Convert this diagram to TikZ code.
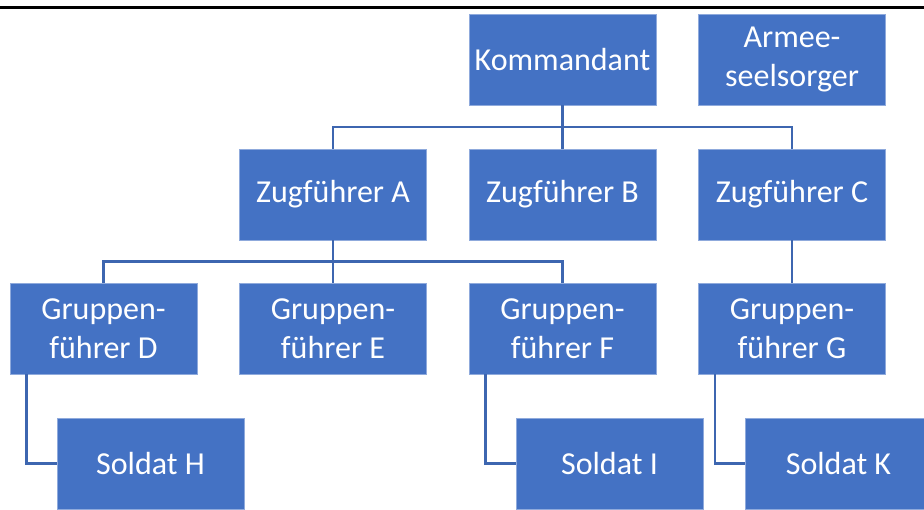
\documentclass[tikz,border=0pt]{standalone}
\usepackage{fontspec}
\setmainfont{Carlito}
\usetikzlibrary{calc}
\definecolor{boxblue}{HTML}{4472C4}
\definecolor{boxedge}{HTML}{8FAADC}
\definecolor{linkblue}{HTML}{3D66B0}
\tikzset{
  orgbox/.style={fill=boxblue, draw=boxedge, line width=0.8pt, text=white,
    minimum width=187pt, minimum height=91pt, inner sep=0pt, align=center,
    font=\fontsize{32}{39}\selectfont},
  link/.style={draw=linkblue, line width=2.3pt}
}
\begin{document}
\begin{tikzpicture}[x=1pt,y=-1pt]
\useasboundingbox (0,0) rectangle (924,509);
\clip (0,0) rectangle (924,509);
\draw[black, line width=2.6pt] (0,7.3) -- (924,7.3);
% nodes
\node[orgbox] (kom) at (562.5,59.5) {Kommandant};
\node[orgbox] (arm) at (792,59.5) {Armee-\\seelsorger};
\node[orgbox] (za) at (333,194.5) {Zugführer A};
\node[orgbox] (zb) at (562.5,194.5) {Zugführer B};
\node[orgbox] (zc) at (792,194.5) {Zugführer C};
\node[orgbox] (gd) at (103.5,328.5) {Gruppen-\\führer D};
\node[orgbox] (ge) at (333,328.5) {Gruppen-\\führer E};
\node[orgbox] (gf) at (562.5,328.5) {Gruppen-\\führer F};
\node[orgbox] (gg) at (792,328.5) {Gruppen-\\führer G};
\node[orgbox] (sh) at (150.5,463.5) {Soldat H};
\node[orgbox] (si) at (609.5,463.5) {Soldat I};
\node[orgbox] (sk) at (838.5,463.5) {Soldat K};
% connectors
\coordinate (bus1) at ($(kom.south)!0.5!(zb.north)$);
\draw[link] (kom.south) -- (zb.north);
\draw[link] (za.north) |- (bus1) -| (zc.north);
\coordinate (bus2) at ($(za.south)!0.5!(ge.north)$);
\draw[link] (za.south) -- (ge.north);
\draw[link] (gd.north) |- (bus2) -| (gf.north);
\draw[link] (zc.south) -- (gg.north);
\draw[link] ([xshift=17pt]gd.south west) |- (sh.west);
\draw[link] ([xshift=17pt]gf.south west) |- (si.west);
\draw[link] ([xshift=17pt]gg.south west) |- (sk.west);
\end{tikzpicture}
\end{document}
